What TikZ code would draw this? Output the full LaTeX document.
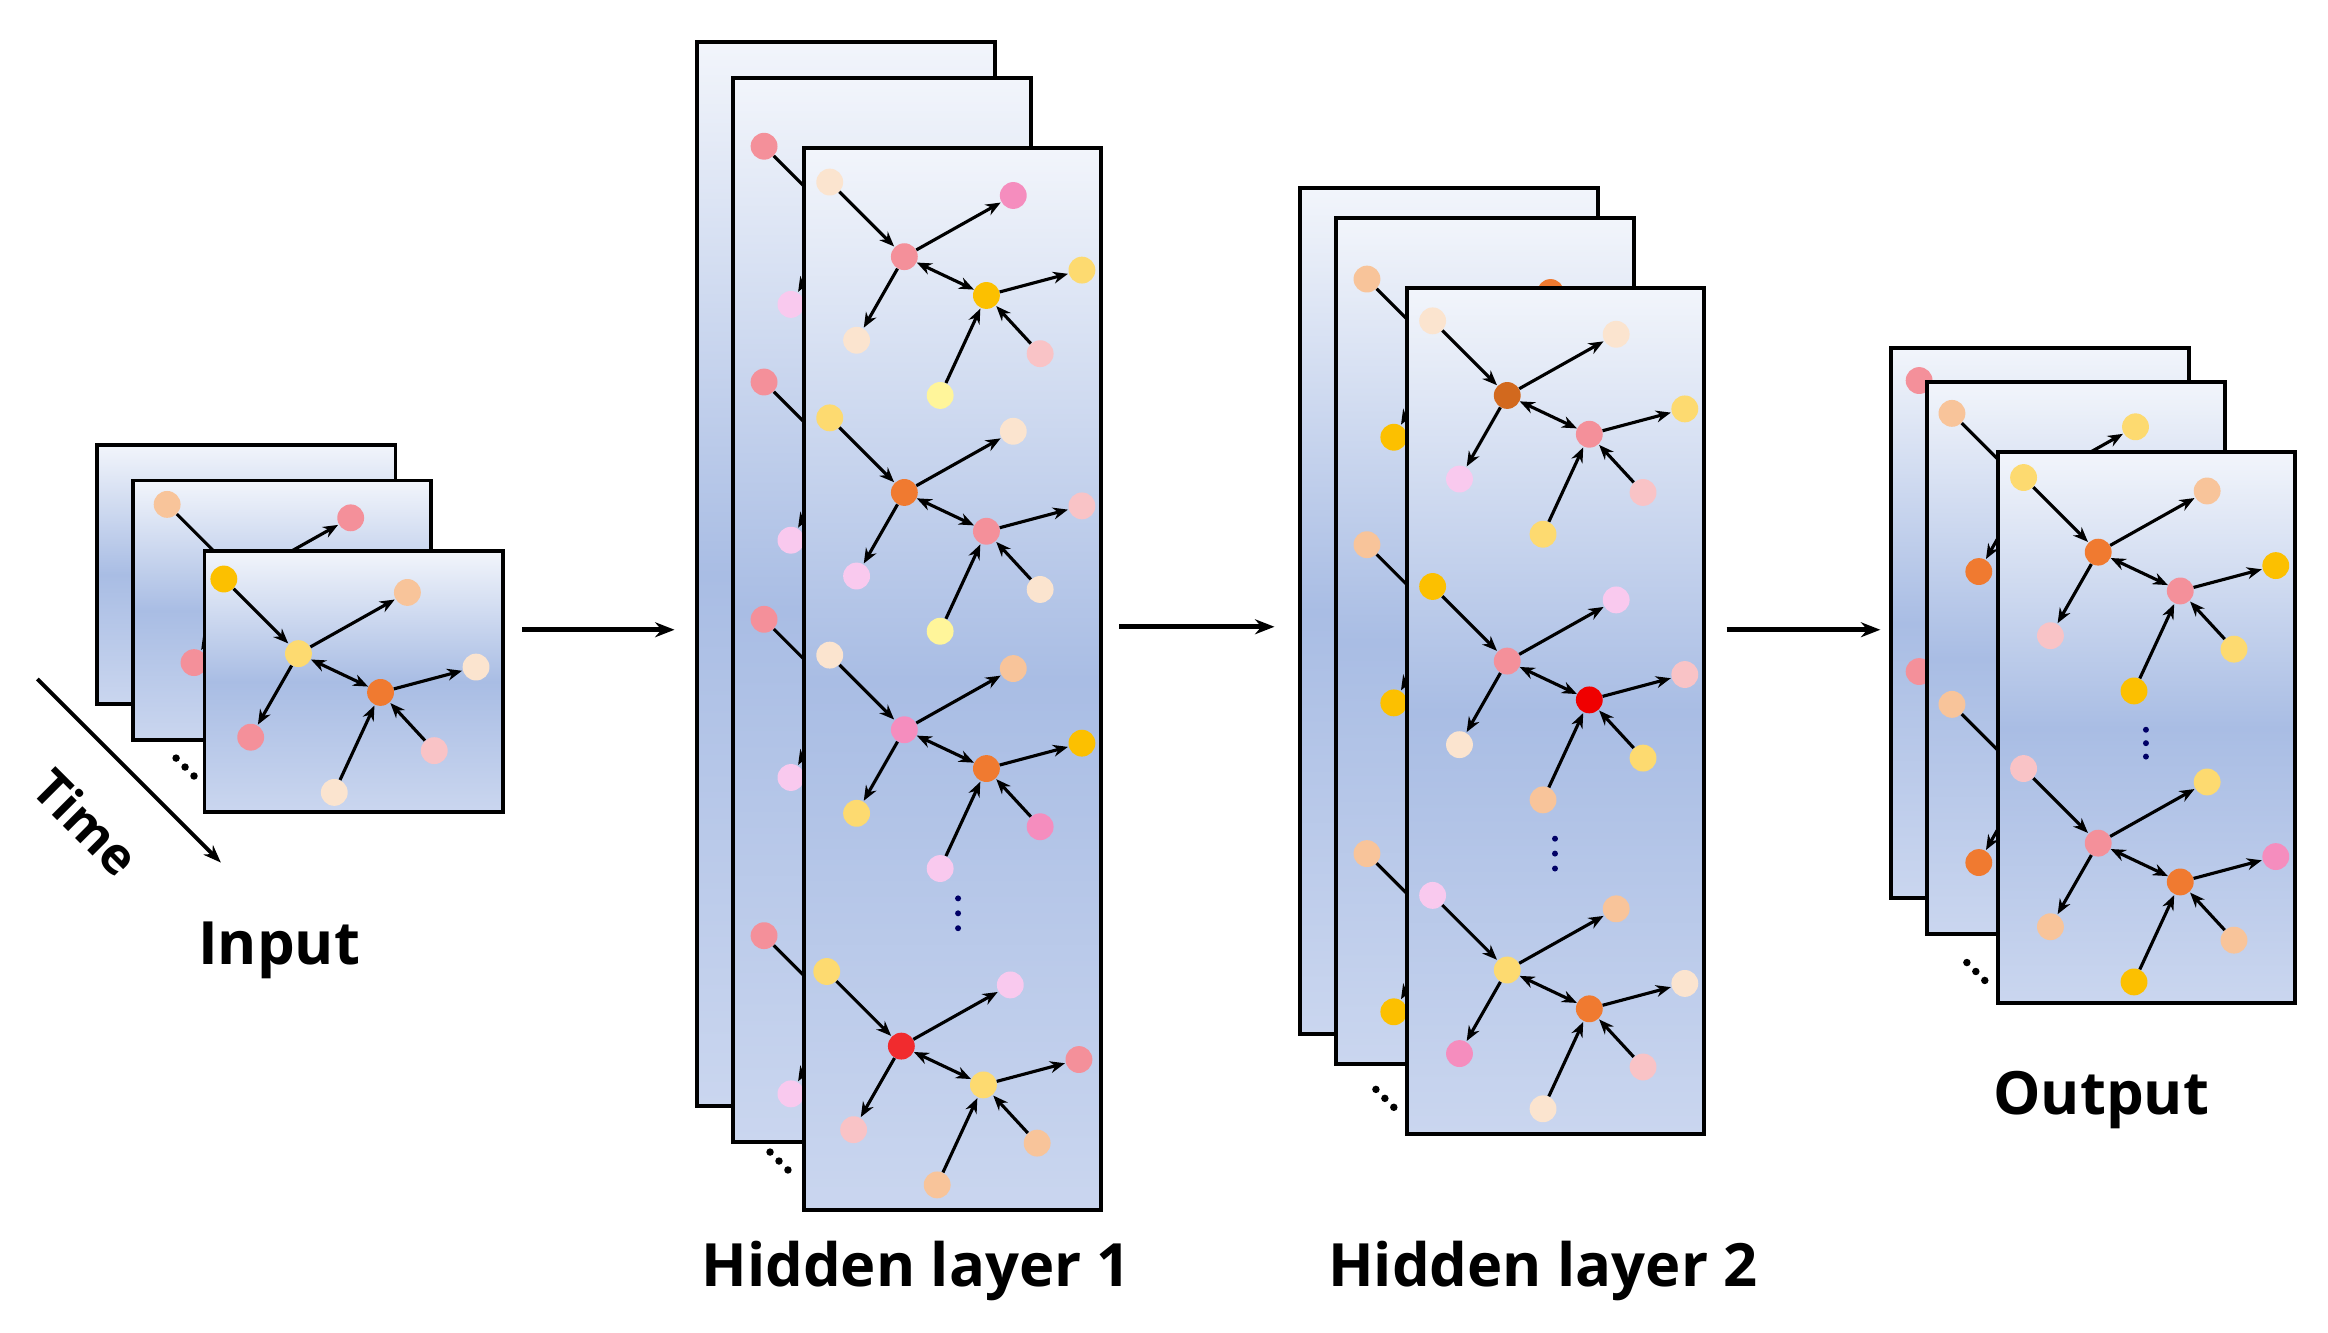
\documentclass[tikz,border=0pt]{standalone}
\usepackage{fontspec}
\setmainfont{Open Sans}
\usetikzlibrary{arrows.meta}
\definecolor{pk}{HTML}{F4909A}
\definecolor{pch}{HTML}{F8C49A}
\definecolor{ylw}{HTML}{FDDA70}
\definecolor{org}{HTML}{F07A30}
\definecolor{gold}{HTML}{FCC000}
\definecolor{lp}{HTML}{F9C9EE}
\definecolor{crm}{HTML}{FBE4CF}
\definecolor{hp}{HTML}{F58DBE}
\definecolor{rd}{HTML}{F00000}
\definecolor{brn}{HTML}{D2691E}
\definecolor{lyel}{HTML}{FFF59A}
\definecolor{lpk}{HTML}{F9C3C6}
\definecolor{ftop}{HTML}{F2F5FB}
\definecolor{fmid}{HTML}{A9BDE4}
\definecolor{fbot}{HTML}{CAD6EF}
\tikzset{
 dot/.style={circle,inner sep=0pt,minimum size=18pt,draw=none},
 ar/.style={-{Stealth[length=10pt,width=8pt]},line width=2.1pt,shorten >=0.5pt},
 bar/.style={{Stealth[length=10pt,width=8pt]}-{Stealth[length=10pt,width=8pt]},line width=2.1pt},
 frm/.style={draw=black,line width=2.6pt,top color=ftop,bottom color=fbot,middle color=fmid},
 big/.style={-{Stealth[length=13pt,width=10pt]},line width=3.2pt},
 lbl/.style={font=\fontsize{40}{44}\selectfont\bfseries},
 sdot/.style={circle,fill=black,inner sep=0pt,minimum size=5pt},
 vdot/.style={circle,fill=blue!40!black,inner sep=0pt,minimum size=4pt}
}
% #1 name, #2 tl, #3 h1, #4 tr, #5 ll, #6 h2, #7 r, #8 lr, #9 lb
\newcommand\motif[9]{%
 \node[dot,fill=#2] (#1tl) at (-50,-50) {};
 \node[dot,fill=#3] (#1h) at (0,0) {};
 \node[dot,fill=#4] (#1tr) at (73,-41) {};
 \node[dot,fill=#5] (#1ll) at (-32,56) {};
 \node[dot,fill=#6] (#1g) at (55,26) {};
 \node[dot,fill=#7] (#1r) at (119,9) {};
 \node[dot,fill=#8] (#1lr) at (91,65) {};
 \node[dot,fill=#9] (#1lb) at (24,93) {};
 \draw[ar] (#1tl)--(#1h);
 \draw[ar] (#1h)--(#1tr);
 \draw[ar] (#1h)--(#1ll);
 \draw[bar] (#1h)--(#1g);
 \draw[ar] (#1g)--(#1r);
 \draw[ar] (#1lr)--(#1g);
 \draw[ar] (#1lb)--(#1g);
}
\newcommand\frameat[4]{\draw[frm] (#1,#2) rectangle (#3,#4);}
\begin{document}
\begin{tikzpicture}[x=1pt,y=-1pt]
\useasboundingbox (0,0) rectangle (1560,893);
% ---------- Input ----------
\frameat{65}{298}{265}{472}
\begin{scope}\clip (65,298) rectangle (265,472);
\begin{scope}[shift={(152,390)}]\motif{ia}{pch}{ylw}{gold}{pk}{org}{crm}{lpk}{ylw}\end{scope}\end{scope}
\frameat{89}{322}{289}{496}
\begin{scope}\clip (89,322) rectangle (289,496);
\begin{scope}[shift={(162,388)}]\motif{ib}{pch}{ylw}{pk}{pk}{org}{crm}{lpk}{ylw}\end{scope}\end{scope}
\frameat{137}{369}{337}{544}
\begin{scope}[shift={(200,438)}]\motif{ic}{gold}{ylw}{pch}{pk}{org}{crm}{lpk}{crm}\end{scope}
\node[sdot] (d1) at (118,508) {};\node[sdot] (d2) at (124,514) {};\node[sdot] (d3) at (130,520) {};
\coordinate (ts) at (25,455); \coordinate (te) at (148,578);
\draw[-{Stealth[length=12pt,width=9pt]},line width=2.6pt] (ts)--(te);
\node[rotate=-45,font=\fontsize{34}{40}\selectfont\bfseries] (time) at (58,551) {Time};
\node[lbl] (linput) at (187,637) {Input};
% ---------- Hidden 1 ----------
\frameat{467}{28}{667}{741}
\begin{scope}\clip (467,28) rectangle (667,741);
\foreach \yy in {124,282,441,653}{\begin{scope}[shift={(558,\yy)}]\motif{ha}{lp}{pk}{ylw}{pch}{org}{crm}{lpk}{crm}\end{scope}}\end{scope}
\frameat{491}{52}{691}{765}
\begin{scope}\clip (491,52) rectangle (691,765);
\foreach \yy in {148,306,465,677}{\begin{scope}[shift={(562,\yy)}]\motif{hb}{pk}{ylw}{ylw}{lp}{org}{crm}{lpk}{pch}\end{scope}}\end{scope}
\frameat{539}{99}{738}{811}
\begin{scope}[shift={(606,172)}]\motif{h1}{crm}{pk}{hp}{crm}{gold}{ylw}{lpk}{lyel}\end{scope}
\begin{scope}[shift={(606,330)}]\motif{h2}{ylw}{org}{crm}{lp}{pk}{lpk}{crm}{lyel}\end{scope}
\begin{scope}[shift={(606,489)}]\motif{h3}{crm}{hp}{pch}{ylw}{org}{gold}{hp}{lp}\end{scope}
\begin{scope}[shift={(604,701)}]\motif{h4}{ylw}{rd!70!pk}{lp}{lpk}{ylw}{pk}{pch}{pch}\end{scope}
\node[vdot] (v1) at (642,602) {};\node[vdot] (v2) at (642,612) {};\node[vdot] (v3) at (642,622) {};
\node[sdot] (e1) at (516,772) {};\node[sdot] (e2) at (522,778) {};\node[sdot] (e3) at (528,784) {};
\node[lbl] (lh1) at (614,852) {Hidden layer 1};
% ---------- Hidden 2 ----------
\frameat{871}{126}{1071}{693}
\begin{scope}\clip (871,126) rectangle (1071,693);
\foreach \yy in {217,395,602}{\begin{scope}[shift={(962,\yy)}]\motif{ka}{ylw}{pk}{pch}{lp}{org}{crm}{lpk}{crm}\end{scope}}\end{scope}
\frameat{895}{146}{1095}{713}
\begin{scope}\clip (895,146) rectangle (1095,713);
\foreach \yy in {237,415,622}{\begin{scope}[shift={(966,\yy)}]\motif{kb}{pch}{org}{org}{gold}{pk}{crm}{lpk}{ylw}\end{scope}}\end{scope}
\frameat{943}{193}{1142}{760}
\begin{scope}[shift={(1010,265)}]\motif{k1}{crm}{brn}{crm}{lp}{pk}{ylw}{lpk}{ylw}\end{scope}
\begin{scope}[shift={(1010,443)}]\motif{k2}{gold}{pk}{lp}{crm}{rd}{lpk}{ylw}{pch}\end{scope}
\begin{scope}[shift={(1010,650)}]\motif{k3}{lp}{ylw}{pch}{hp}{org}{crm}{lpk}{crm}\end{scope}
\node[vdot] (w1) at (1042,562) {};\node[vdot] (w2) at (1042,572) {};\node[vdot] (w3) at (1042,582) {};
\node[sdot] (f1) at (922,730) {};\node[sdot] (f2) at (928,736) {};\node[sdot] (f3) at (934,742) {};
\node[lbl] (lh2) at (1034,852) {Hidden layer 2};
% ---------- Output ----------
\frameat{1267}{233}{1467}{602}
\begin{scope}\clip (1267,233) rectangle (1467,602);
\foreach \yy in {305,500}{\begin{scope}[shift={(1336,\yy)}]\motif{oa}{pk}{org}{ylw}{lp}{pk}{crm}{lpk}{pch}\end{scope}}\end{scope}
\frameat{1291}{256}{1491}{626}
\begin{scope}\clip (1291,256) rectangle (1491,626);
\foreach \yy in {327,522}{\begin{scope}[shift={(1358,\yy)}]\motif{ob}{pch}{org}{ylw}{org}{pk}{crm}{lpk}{pch}\end{scope}}\end{scope}
\frameat{1339}{303}{1538}{672}
\begin{scope}[shift={(1406,370)}]\motif{o1}{ylw}{org}{pch}{lpk}{pk}{gold}{ylw}{gold}\end{scope}
\begin{scope}[shift={(1406,565)}]\motif{o2}{lpk}{pk}{ylw}{pch}{org}{hp}{pch}{gold}\end{scope}
\node[vdot] (u1) at (1438,489) {};\node[vdot] (u2) at (1438,498) {};\node[vdot] (u3) at (1438,507) {};
\node[sdot] (g1) at (1318,645) {};\node[sdot] (g2) at (1324,651) {};\node[sdot] (g3) at (1330,657) {};
\node[lbl] (lout) at (1408,737) {Output};
% ---------- big arrows ----------
\coordinate (a1s) at (350,422); \coordinate (a1e) at (452,422);
\coordinate (a2s) at (750,420); \coordinate (a2e) at (854,420);
\coordinate (a3s) at (1157,422); \coordinate (a3e) at (1260,422);
\draw[big] (a1s)--(a1e); \draw[big] (a2s)--(a2e); \draw[big] (a3s)--(a3e);
\end{tikzpicture}
\end{document}
